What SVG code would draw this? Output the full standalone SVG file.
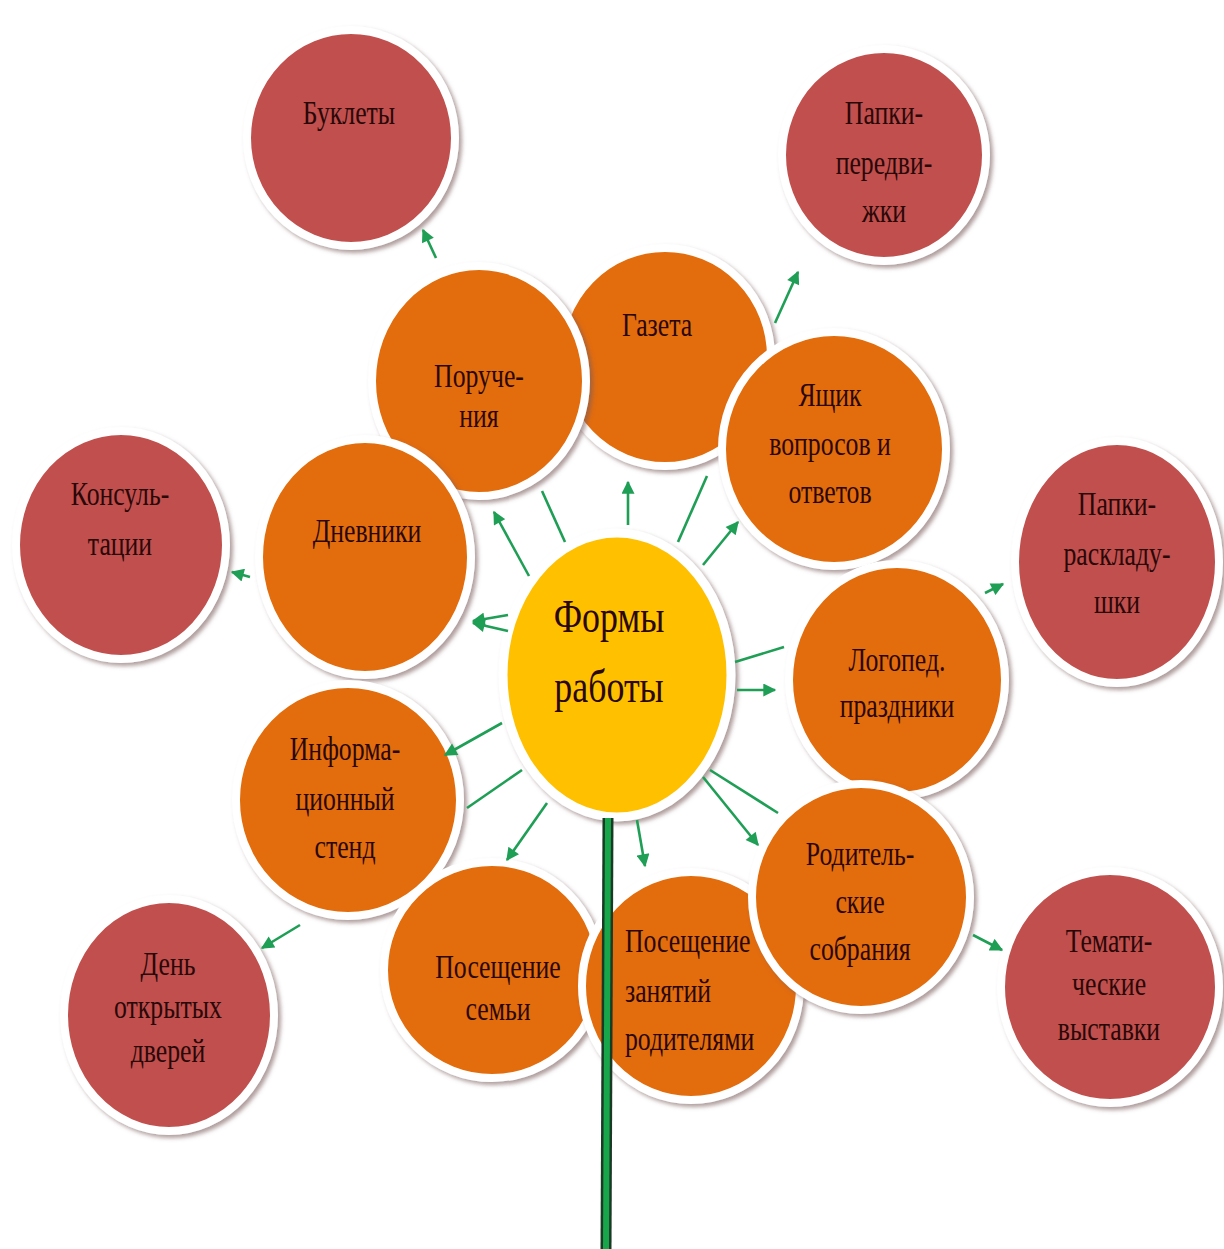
<svg xmlns="http://www.w3.org/2000/svg" width="1224" height="1249" viewBox="0 0 1224 1249">
<defs>
<filter id="sh" x="-20%" y="-20%" width="140%" height="140%">
<feDropShadow dx="3" dy="3" stdDeviation="2" flood-color="#7a5a5a" flood-opacity="0.6"/>
</filter>
<marker id="ah" viewBox="0 0 10 10" refX="9" refY="5" markerWidth="15" markerHeight="13" markerUnits="userSpaceOnUse" orient="auto">
<path d="M0,0 L10,5 L0,10 z" fill="#1f9e55"/>
</marker>
<style>
.red ellipse{fill:#c0504d;stroke:#fff;stroke-width:8;filter:url(#sh)}
.org ellipse{fill:#e36c0a;stroke:#fff;stroke-width:8;filter:url(#sh)}
.ctr ellipse{fill:#ffc000;stroke:#fff;stroke-width:9;filter:url(#sh)}
text{font-family:"Liberation Serif","Times New Roman",serif;font-size:33px;fill:#2a0808;text-anchor:middle}
.big{font-size:46px}
.left{text-anchor:start}
.conn line{stroke:#1f9e55;stroke-width:2.6}
.arr{marker-end:url(#ah)}
</style>
</defs>
<rect width="1224" height="1249" fill="#fff"/>

<g id="n-buklety" class="red"><ellipse cx="351" cy="138" rx="104" ry="108"/>
<text transform="translate(349 0) scale(0.78 1)" x="0" y="124">Буклеты</text></g>
<g id="n-papki-peredv" class="red"><ellipse cx="884" cy="155" rx="102" ry="106"/>
<text transform="translate(884 0) scale(0.78 1)"><tspan x="0" y="124">Папки-</tspan><tspan x="0" y="174">передви-</tspan><tspan x="0" y="222">жки</tspan></text></g>
<g id="n-konsult" class="red"><ellipse cx="121" cy="545" rx="105" ry="114"/>
<text transform="translate(120 0) scale(0.78 1)"><tspan x="0" y="505">Консуль-</tspan><tspan x="0" y="555">тации</tspan></text></g>
<g id="n-papki-raskl" class="red"><ellipse cx="1117" cy="562" rx="102" ry="121"/>
<text transform="translate(1117 0) scale(0.78 1)"><tspan x="0" y="515">Папки-</tspan><tspan x="0" y="565">раскладу-</tspan><tspan x="0" y="613">шки</tspan></text></g>
<g id="n-den" class="red"><ellipse cx="169" cy="1015" rx="105" ry="116"/>
<text transform="translate(168 0) scale(0.78 1)"><tspan x="0" y="975">День</tspan><tspan x="0" y="1018">открытых</tspan><tspan x="0" y="1062">дверей</tspan></text></g>
<g id="n-temat" class="red"><ellipse cx="1110" cy="987" rx="109" ry="116"/>
<text transform="translate(1109 0) scale(0.78 1)"><tspan x="0" y="952">Темати-</tspan><tspan x="0" y="995">ческие</tspan><tspan x="0" y="1040">выставки</tspan></text></g>

<g id="n-gazeta" class="org"><ellipse cx="665" cy="357" rx="106" ry="109"/>
<text transform="translate(657 0) scale(0.78 1)" x="0" y="336">Газета</text></g>
<g id="n-poruch" class="org"><ellipse cx="479" cy="381" rx="107" ry="115"/>
<text transform="translate(479 0) scale(0.78 1)"><tspan x="0" y="387">Поруче-</tspan><tspan x="0" y="427">ния</tspan></text></g>
<g id="n-yashchik" class="org"><ellipse cx="834" cy="449" rx="112" ry="117"/>
<text transform="translate(830 0) scale(0.78 1)"><tspan x="0" y="406">Ящик</tspan><tspan x="0" y="455">вопросов и</tspan><tspan x="0" y="503">ответов</tspan></text></g>
<g id="n-dnevniki" class="org"><ellipse cx="365" cy="557" rx="106" ry="118"/>
<text transform="translate(367 0) scale(0.78 1)" x="0" y="542">Дневники</text></g>
<g id="n-logoped" class="org"><ellipse cx="897" cy="680" rx="108" ry="116"/>
<text transform="translate(897 0) scale(0.78 1)"><tspan x="0" y="671">Логопед.</tspan><tspan x="0" y="717">праздники</tspan></text></g>
<g id="n-inform" class="org"><ellipse cx="348" cy="800" rx="112" ry="116"/>
<text transform="translate(345 0) scale(0.78 1)"><tspan x="0" y="760">Информа-</tspan><tspan x="0" y="810">ционный</tspan><tspan x="0" y="858">стенд</tspan></text></g>
<g id="n-pos-semi" class="org"><ellipse cx="492" cy="970" rx="108" ry="108"/>
<text transform="translate(498 0) scale(0.78 1)"><tspan x="0" y="978">Посещение</tspan><tspan x="0" y="1020">семьи</tspan></text></g>
<g id="n-pos-zan" class="org"><ellipse cx="691" cy="986" rx="109" ry="114"/>
<text class="left" transform="translate(625 0) scale(0.78 1)"><tspan x="0" y="952">Посещение</tspan><tspan x="0" y="1002">занятий</tspan><tspan x="0" y="1050">родителями</tspan></text></g>
<g id="n-rodit" class="org"><ellipse cx="861" cy="897" rx="109" ry="113"/>
<text transform="translate(860 0) scale(0.78 1)"><tspan x="0" y="865">Родитель-</tspan><tspan x="0" y="913">ские</tspan><tspan x="0" y="960">собрания</tspan></text></g>

<g id="n-center" class="ctr"><ellipse cx="617" cy="675" rx="114" ry="142"/>
<text class="big" transform="translate(609 0) scale(0.78 1)"><tspan x="0" y="632">Формы</tspan><tspan x="0" y="702">работы</tspan></text></g>

<g id="connectors" class="conn">
<line class="arr" x1="529" y1="576" x2="494" y2="512"/>
<line x1="565" y1="542" x2="542" y2="491"/>
<line class="arr" x1="628" y1="525" x2="628" y2="482"/>
<line x1="678" y1="542" x2="707" y2="476"/>
<line class="arr" x1="703" y1="565" x2="738" y2="522"/>
<line class="arr" x1="508" y1="615" x2="473" y2="621"/>
<line class="arr" x1="508" y1="631" x2="473" y2="623"/>
<line x1="735" y1="662" x2="784" y2="647"/>
<line class="arr" x1="737" y1="690" x2="775" y2="690"/>
<line class="arr" x1="502" y1="723" x2="445" y2="755"/>
<line x1="522" y1="770" x2="467" y2="808"/>
<line class="arr" x1="547" y1="803" x2="507" y2="860"/>
<line class="arr" x1="637" y1="820" x2="645" y2="866"/>
<line class="arr" x1="703" y1="777" x2="758" y2="845"/>
<line x1="710" y1="770" x2="778" y2="813"/>
<line class="arr" x1="436" y1="258" x2="423" y2="230"/>
<line class="arr" x1="775" y1="323" x2="798" y2="272"/>
<line class="arr" x1="250" y1="577" x2="232" y2="572"/>
<line class="arr" x1="985" y1="593" x2="1003" y2="584"/>
<line class="arr" x1="300" y1="925" x2="262" y2="948"/>
<line class="arr" x1="973" y1="935" x2="1002" y2="950"/>
<line x1="608" y1="818" x2="606" y2="1249" style="stroke:#1a3a26;stroke-width:11"/>
<line x1="608" y1="818" x2="606" y2="1249" style="stroke:#17a64a;stroke-width:6"/>
</g>
</svg>
